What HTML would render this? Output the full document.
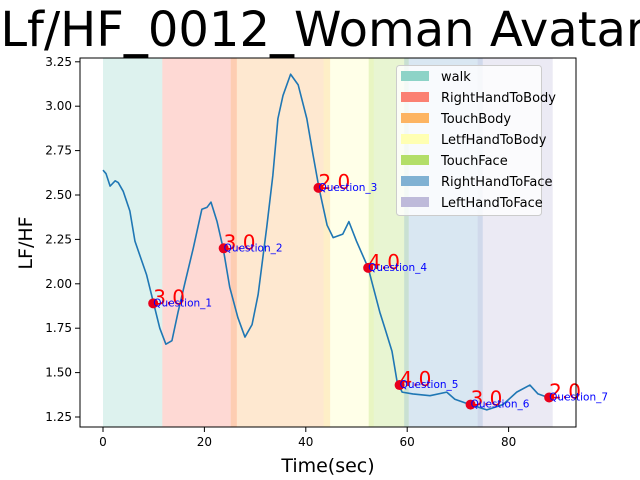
<!DOCTYPE html>
<html><head><meta charset="utf-8"><style>
body{margin:0;background:#fff;}
svg{display:block;font-family:"DejaVu Sans","Liberation Sans",sans-serif;}
</style></head><body>
<svg id="chart" width="640" height="480" viewBox="0 0 640 480" xmlns="http://www.w3.org/2000/svg">
<text x="323" y="46" font-size="48" text-anchor="middle">Lf/HF_0012_Woman Avatar</text>
<g id="spans"></g>
<g id="axes"></g>
<g id="series"></g>
<g id="marks"></g>
<rect x="80" y="58" width="496" height="369" fill="none" stroke="#000" stroke-width="1"/>
<text x="328" y="472" font-size="19" text-anchor="middle">Time(sec)</text>
<text x="0" y="0" font-size="19" text-anchor="middle" transform="translate(32,243) rotate(-90)">LF/HF</text>
<g id="legend"></g>
</svg>
<script>
const spanNames=["walk","RightHandToBody","TouchBody","LetfHandToBody","TouchFace","RightHandToFace","LeftHandToFace"];
const spanStart=[0,11.7,25.2,43.5,52.4,59.4,73.9];
const spanEnd=[11.7,26.4,44.8,53.4,60.3,74.9,88.7];
const spanColors=["#8dd3c7","#fb8072","#fdb462","#ffffb3","#b3de69","#80b1d3","#bebada"];
const xTicks=[0,20,40,60,80];
const yTicks=[1.25,1.50,1.75,2.00,2.25,2.50,2.75,3.00,3.25];
const tSec=[0,0.6,1.4,2.4,3.0,4,5.3,6.3,8.6,9.9,11.2,12.4,13.6,14.8,16.2,17.8,19.5,20.5,21.3,22.5,23.7,25,26.6,28,29.4,30.6,32.3,33.5,34.5,35.5,37,38.5,40.2,41.4,42.6,44.2,45.4,47.3,48.5,50,52.3,54.6,55.6,57,58,59,61.1,64.5,67.8,69.4,72.4,75.7,78.9,81.6,84.2,85.8,87.8];
const lfhf=[2.64,2.62,2.55,2.58,2.57,2.52,2.41,2.24,2.05,1.90,1.75,1.66,1.68,1.84,2.01,2.20,2.42,2.43,2.46,2.35,2.20,1.98,1.81,1.70,1.77,1.94,2.32,2.61,2.93,3.06,3.18,3.12,2.93,2.73,2.54,2.33,2.26,2.28,2.35,2.24,2.09,1.84,1.75,1.62,1.45,1.39,1.38,1.37,1.39,1.35,1.32,1.29,1.32,1.39,1.43,1.38,1.36];
const qTime=[9.9,23.8,42.5,52.3,58.5,72.5,88];
const qVal=[1.89,2.20,2.54,2.09,1.43,1.32,1.36];
const qScore=["3.0","3.0","2.0","4.0","4.0","3.0","2.0"];
const qLabel=["Question_1","Question_2","Question_3","Question_4","Question_5","Question_6","Question_7"];

const NS="http://www.w3.org/2000/svg";
const X=v=>103+v*5.07;
const Y=v=>417-(v-1.25)*177.6;
function mk(tag,attrs,parent){const e=document.createElementNS(NS,tag);for(const k in attrs)e.setAttribute(k,attrs[k]);document.getElementById(parent).appendChild(e);return e;}

spanNames.forEach((n,i)=>{
  const r=mk('rect',{x:X(spanStart[i]),y:58,width:X(spanEnd[i])-X(spanStart[i]),height:369,fill:spanColors[i],'fill-opacity':0.3},'spans');
  
  
});
xTicks.forEach(t=>{
  const l=mk('line',{x1:X(t),x2:X(t),y1:427,y2:432,stroke:'#000'},'axes');
  
  
  const tx=mk('text',{x:X(t),y:446,'font-size':12,'text-anchor':'middle'},'axes');
  tx.textContent=t;
  
  
});
yTicks.forEach(t=>{
  const l=mk('line',{x1:75,x2:80,y1:Y(t),y2:Y(t),stroke:'#000'},'axes');
  
  
  const tx=mk('text',{x:72,y:Y(t)+4,'font-size':12,'text-anchor':'end'},'axes');
  tx.textContent=t.toFixed(2);
  
  
});
const p=mk('polyline',{points:tSec.map((t,i)=>X(t)+','+Y(lfhf[i])).join(' '),fill:'none',stroke:'#1f77b4','stroke-width':1.6,'stroke-linejoin':'round'},'series');


qTime.forEach((t,i)=>{
  const c=mk('circle',{cx:X(t),cy:Y(qVal[i]),r:5,fill:'#e8001c'},'marks');
  
  
  const s=mk('text',{x:X(t),y:Y(qVal[i])+1,'font-size':20,fill:'red'},'marks');
  s.textContent=qScore[i];
  
  
  const q=mk('text',{x:X(t),y:Y(qVal[i])+3,'font-size':10.5,fill:'blue'},'marks');
  q.textContent=qLabel[i];
  
  
});
const lb=mk('rect',{x:396.5,y:65.5,width:145,height:150,rx:3,fill:'#fff','fill-opacity':0.8,stroke:'#ccc'},'legend');


spanNames.forEach((n,i)=>{
  const y=71+i*21;
  const sw=mk('rect',{x:401,y:y,width:28,height:10,fill:spanColors[i]},'legend');
  
  
  const tx=mk('text',{x:441,y:y+10,'font-size':13},'legend');
  tx.textContent=n;
  
  
});
</script>
</body></html>
